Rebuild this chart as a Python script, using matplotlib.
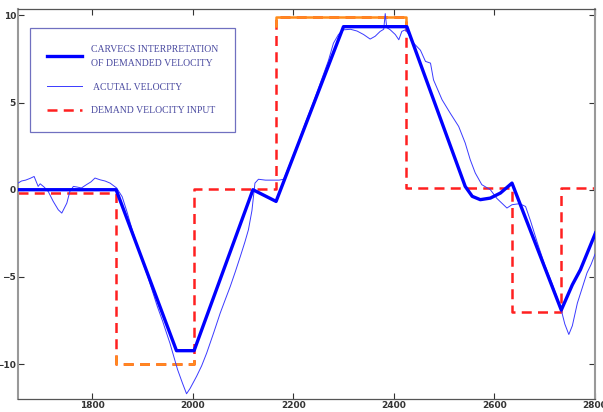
import matplotlib
matplotlib.use('Agg')
import matplotlib.pyplot as plt
import numpy as np

# demand velocity input (step levels between edges)
demand_edges = [1653, 1848, 2003, 2166, 2424, 2636, 2733, 2801]
demand_levels = [-0.19, -10.0, 0.05, 9.9, 0.1, -7.0, 0.1]

# carvecs interpretation of demanded velocity
carvecs_x = [1653, 1848, 1968, 2003, 2120, 2166, 2300, 2426, 2542, 2556, 2572,
             2592, 2612, 2635, 2733, 2755, 2771, 2801]
carvecs_y = [0.0, 0.0, -9.23, -9.23, 0.0, -0.67, 9.35, 9.35, 0.19, -0.38, -0.57,
             -0.48, -0.19, 0.38, -6.9, -5.45, -4.59, -2.48]

# actual velocity
actual_x = [1653, 1660, 1668, 1677, 1685, 1693, 1697, 1705, 1713, 1723, 1733, 1740,
            1750, 1756, 1763, 1771, 1779, 1789, 1798, 1806, 1816, 1826, 1836, 1849,
            1860, 1870, 1880, 1890, 1900, 1910, 1920, 1930, 1940, 1948, 1955, 1962,
            1970, 1980, 1988, 1995, 2008, 2018, 2028, 2042, 2055, 2065, 2075, 2085,
            2095, 2104, 2111, 2118, 2124, 2131, 2145, 2160, 2172, 2181, 2195, 2210,
            2225, 2240, 2255, 2270, 2280, 2290, 2300, 2314, 2327, 2340, 2353, 2363,
            2373, 2380, 2383, 2386, 2393, 2403, 2410, 2416, 2423, 2430, 2436, 2443,
            2453, 2463, 2473, 2479, 2496, 2512, 2529, 2542, 2552, 2562, 2575, 2592,
            2605, 2625, 2635, 2650, 2662, 2672, 2685, 2700, 2715, 2725, 2733, 2740,
            2748, 2755, 2765, 2775, 2784, 2792, 2801]
actual_y = [0.38, 0.5, 0.55, 0.65, 0.76, 0.19, 0.34, 0.15, -0.1, -0.67, -1.15, -1.34,
            -0.77, -0.1, 0.19, 0.15, 0.1, 0.29, 0.45, 0.67, 0.57, 0.5, 0.38, 0.1,
            -0.4, -1.3, -2.3, -3.2, -4.1, -4.9, -5.8, -6.7, -7.5, -8.2, -8.8, -9.5,
            -10.3, -11.1, -11.7, -11.4, -10.7, -10.1, -9.37, -8.2, -7.07, -6.3, -5.54, -4.7,
            -3.82, -3.0, -2.3, -1.2, 0.38, 0.6, 0.55, 0.55, 0.55, 0.6, 1.6, 2.7,
            3.9, 5.0, 6.2, 7.4, 8.4, 8.9, 9.17, 9.2, 9.1, 8.9, 8.64, 8.8,
            9.08, 9.2, 10.1, 9.3, 9.17, 8.9, 8.6, 9.08, 9.17, 8.9, 8.5, 8.3,
            8.0, 7.36, 7.26, 6.3, 5.16, 4.4, 3.63, 2.68, 1.72, 0.96, 0.29, 0.0,
            -0.5, -1.05, -0.86, -0.8, -0.96, -1.8, -3.0, -4.3, -5.4, -6.2, -6.9, -7.7,
            -8.3, -7.8, -6.5, -5.6, -4.78, -4.3, -3.63]

x_ticks = [1800, 2000, 2200, 2400, 2600, 2800]
y_ticks = [-10, -5, 0, 5, 10]

fig = plt.figure(figsize=(6.03, 4.12), dpi=100)
ax = fig.add_axes([0.0299, 0.0316, 0.9568, 0.9464])

step_y = demand_levels + [demand_levels[-1]]
ax.step(demand_edges, step_y, where='post', color='#ff2020', lw=1.8,
        dashes=(4, 2.5), label='DEMAND VELOCITY INPUT', zorder=2)

# orange highlight on the two saturated demand levels
i_top = int(np.argmax(demand_levels))
i_bot = int(np.argmin(demand_levels))
x0, x1 = demand_edges[i_top], demand_edges[i_top + 1]
lv = demand_levels[i_top]
ax.plot([x0, x0, x1, x1], [lv - 0.5, lv, lv, lv - 0.5], color='#ff8c1a', lw=1.8, zorder=2)
x0, x1 = demand_edges[i_bot], demand_edges[i_bot + 1]
lv = demand_levels[i_bot]
ax.plot([x0, x0, x1, x1], [lv + 0.5, lv, lv, lv + 0.5], color='#ff8c1a', lw=1.8,
        dashes=(4, 2.5), zorder=2)

ax.plot(actual_x, actual_y, color='#3a3aff', lw=0.7, label=' ACUTAL VELOCITY', zorder=3)
ax.plot(carvecs_x, carvecs_y, color='#0000ff', lw=2.4,
        label='CARVECS INTERPRETATION\nOF DEMANDED VELOCITY', zorder=4)

ax.set_xlim(1653, 2800)
ax.set_ylim(-12.0, 10.36)
ax.set_xticks(x_ticks)
ax.set_yticks(y_ticks)
ax.tick_params(direction='in', top=True, right=True, length=4, width=0.8,
               labelsize=6.5, colors='#333333', pad=1.5)
for lab in ax.get_xticklabels() + ax.get_yticklabels():
    lab.set_fontweight('bold')
for s in ax.spines.values():
    s.set_color('#555555')
    s.set_linewidth(0.9)
ax.spines['left'].set_color('#999999')
ax.spines['left'].set_linewidth(1.5)
ax.spines['right'].set_color('#999999')
ax.spines['right'].set_linewidth(1.5)

handles, labels = ax.get_legend_handles_labels()
order = [2, 1, 0]
leg = ax.legend([handles[i] for i in order], [labels[i] for i in order],
                loc='upper left', bbox_to_anchor=(0.021, 0.951), borderaxespad=0,
                fancybox=False, prop={'family': 'Liberation Serif', 'size': 7},
                labelcolor='#4a4aa0', edgecolor='#7070c0', handlelength=3.6,
                handletextpad=1.0, borderpad=1.7, labelspacing=1.5, framealpha=1)
leg.get_frame().set_linewidth(0.9)
leg.get_texts()[0].set_linespacing(1.75)

fig.savefig('out.png', dpi=100)
